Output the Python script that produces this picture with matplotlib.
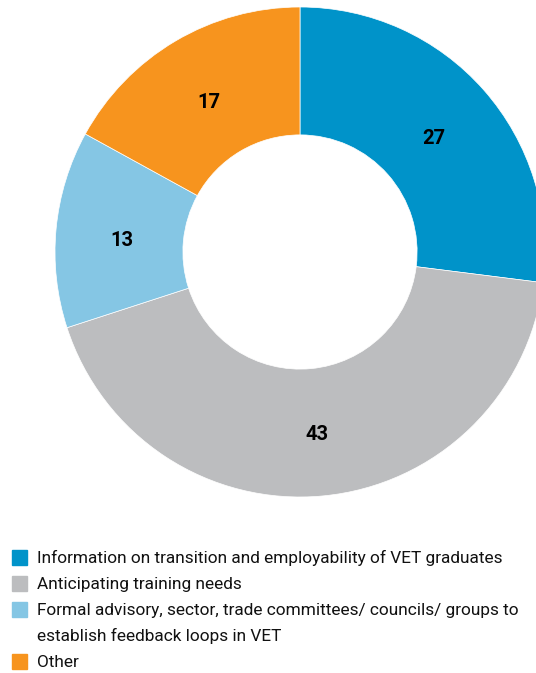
import numpy as np
import matplotlib.pyplot as plt
from matplotlib.patches import Rectangle

labels = [
    "Information on transition and employability of VET graduates",
    "Anticipating training needs",
    "Formal advisory, sector, trade committees/ councils/ groups to\nestablish feedback loops in VET",
    "Other",
]
values = [27, 43, 13, 17]
colors = ["#0093C9", "#BCBDBF", "#85C6E4", "#F7941E"]

FONT = ["Roboto", "DejaVu Sans"]
W, H = 536, 673

fig = plt.figure(figsize=(W / 100, H / 100), dpi=100)

# donut: centre (300, 252) px, radius 245 px
cx, cy, r = 300, 252, 245
ax = fig.add_axes([(cx - r) / W, (H - cy - r) / H, 2 * r / W, 2 * r / H])
wedges, _ = ax.pie(values, colors=colors, startangle=90, counterclock=False,
                   radius=1, wedgeprops=dict(width=0.522, linewidth=0.5, edgecolor="white"))
ax.set_xlim(-1, 1)
ax.set_ylim(-1, 1)
ax.set_aspect("equal")
ax.axis("off")

# value labels in the middle of each ring segment
start = 90
for v in values:
    mid = np.deg2rad(start - v * 3.6 / 2)
    ax.text(0.73 * np.cos(mid), 0.73 * np.sin(mid) - 0.012, str(v), ha="center",
            va="center_baseline", fontsize=14.5, fontweight="bold", family=FONT)
    start -= v * 3.6

# legend, one text per line, 26 px apart
y = 557
for lab, col in zip(labels, colors):
    fig.patches.append(Rectangle((12 / W, 1 - (y + 7.5) / H), 15 / W, 15 / H,
                                 transform=fig.transFigure, color=col))
    for line in lab.split("\n"):
        fig.text(37 / W, 1 - (y + 6) / H, line, ha="left", va="baseline",
                 fontsize=12.4, family=FONT, color="#111111")
        y += 26

fig.savefig("out.png", dpi=100)
